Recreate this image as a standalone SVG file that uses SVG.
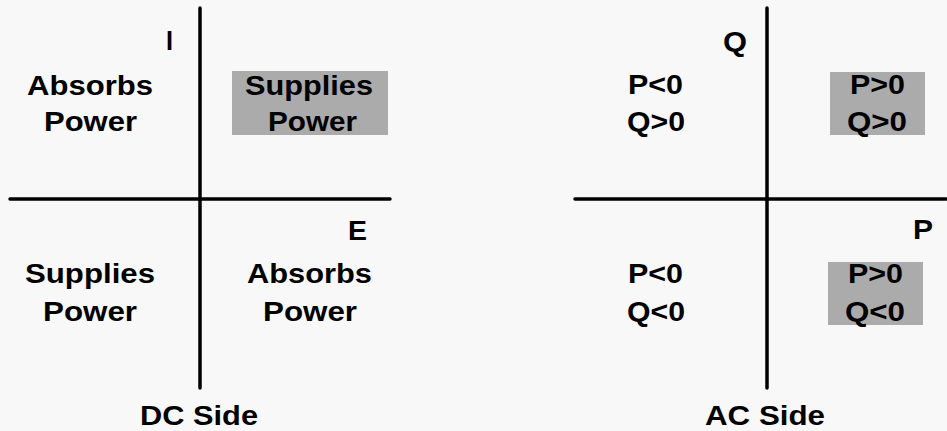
<svg xmlns="http://www.w3.org/2000/svg" width="947" height="431" viewBox="0 0 947 431">
<style>
text{font-family:"Liberation Sans",Arial,sans-serif;font-weight:bold;font-size:28px;fill:#000}
.ax{stroke:#000;stroke-width:3.5;stroke-linecap:round;fill:none}
.sh{fill:#ababab}
</style>
<rect width="947" height="431" fill="#f8f8f8"/>
<g id="axes">
<line class="ax" x1="200" y1="8" x2="200" y2="388"/>
<line class="ax" x1="10" y1="199" x2="390" y2="199"/>
<line class="ax" x1="767" y1="8" x2="767" y2="388"/>
<line class="ax" x1="575" y1="199" x2="946" y2="199"/>
</g>
<g id="dc">
<text x="166" y="50" textLength="7" lengthAdjust="spacingAndGlyphs">I</text>
<text x="348" y="240" textLength="19" lengthAdjust="spacingAndGlyphs">E</text>
<text x="27" y="95" textLength="126" lengthAdjust="spacingAndGlyphs">Absorbs</text>
<text x="44" y="131" textLength="93" lengthAdjust="spacingAndGlyphs">Power</text>
<rect class="sh" x="232" y="71" width="156" height="64"/>
<text x="245" y="95" textLength="128" lengthAdjust="spacingAndGlyphs">Supplies</text>
<text x="268" y="131" textLength="89" lengthAdjust="spacingAndGlyphs">Power</text>
<text x="25" y="283" textLength="130" lengthAdjust="spacingAndGlyphs">Supplies</text>
<text x="43" y="321" textLength="94" lengthAdjust="spacingAndGlyphs">Power</text>
<text x="247" y="283" textLength="125" lengthAdjust="spacingAndGlyphs">Absorbs</text>
<text x="263" y="321" textLength="94" lengthAdjust="spacingAndGlyphs">Power</text>
<text x="140" y="425" textLength="118" lengthAdjust="spacingAndGlyphs">DC Side</text>
</g>
<g id="ac">
<text x="723" y="51" textLength="24" lengthAdjust="spacingAndGlyphs">Q</text>
<text x="913" y="239" textLength="20" lengthAdjust="spacingAndGlyphs">P</text>
<text x="628" y="94" textLength="55" lengthAdjust="spacingAndGlyphs">P&lt;0</text>
<text x="627" y="131" textLength="58" lengthAdjust="spacingAndGlyphs">Q&gt;0</text>
<rect class="sh" x="830" y="72" width="95" height="63"/>
<text x="850" y="94" textLength="55" lengthAdjust="spacingAndGlyphs">P&gt;0</text>
<text x="847" y="131" textLength="60" lengthAdjust="spacingAndGlyphs">Q&gt;0</text>
<text x="628" y="283" textLength="55" lengthAdjust="spacingAndGlyphs">P&lt;0</text>
<text x="627" y="321" textLength="58" lengthAdjust="spacingAndGlyphs">Q&lt;0</text>
<rect class="sh" x="828" y="262" width="95" height="63"/>
<text x="848" y="283" textLength="55" lengthAdjust="spacingAndGlyphs">P&gt;0</text>
<text x="845" y="321" textLength="60" lengthAdjust="spacingAndGlyphs">Q&lt;0</text>
<text x="705" y="425" textLength="120" lengthAdjust="spacingAndGlyphs">AC Side</text>
</g>
</svg>
